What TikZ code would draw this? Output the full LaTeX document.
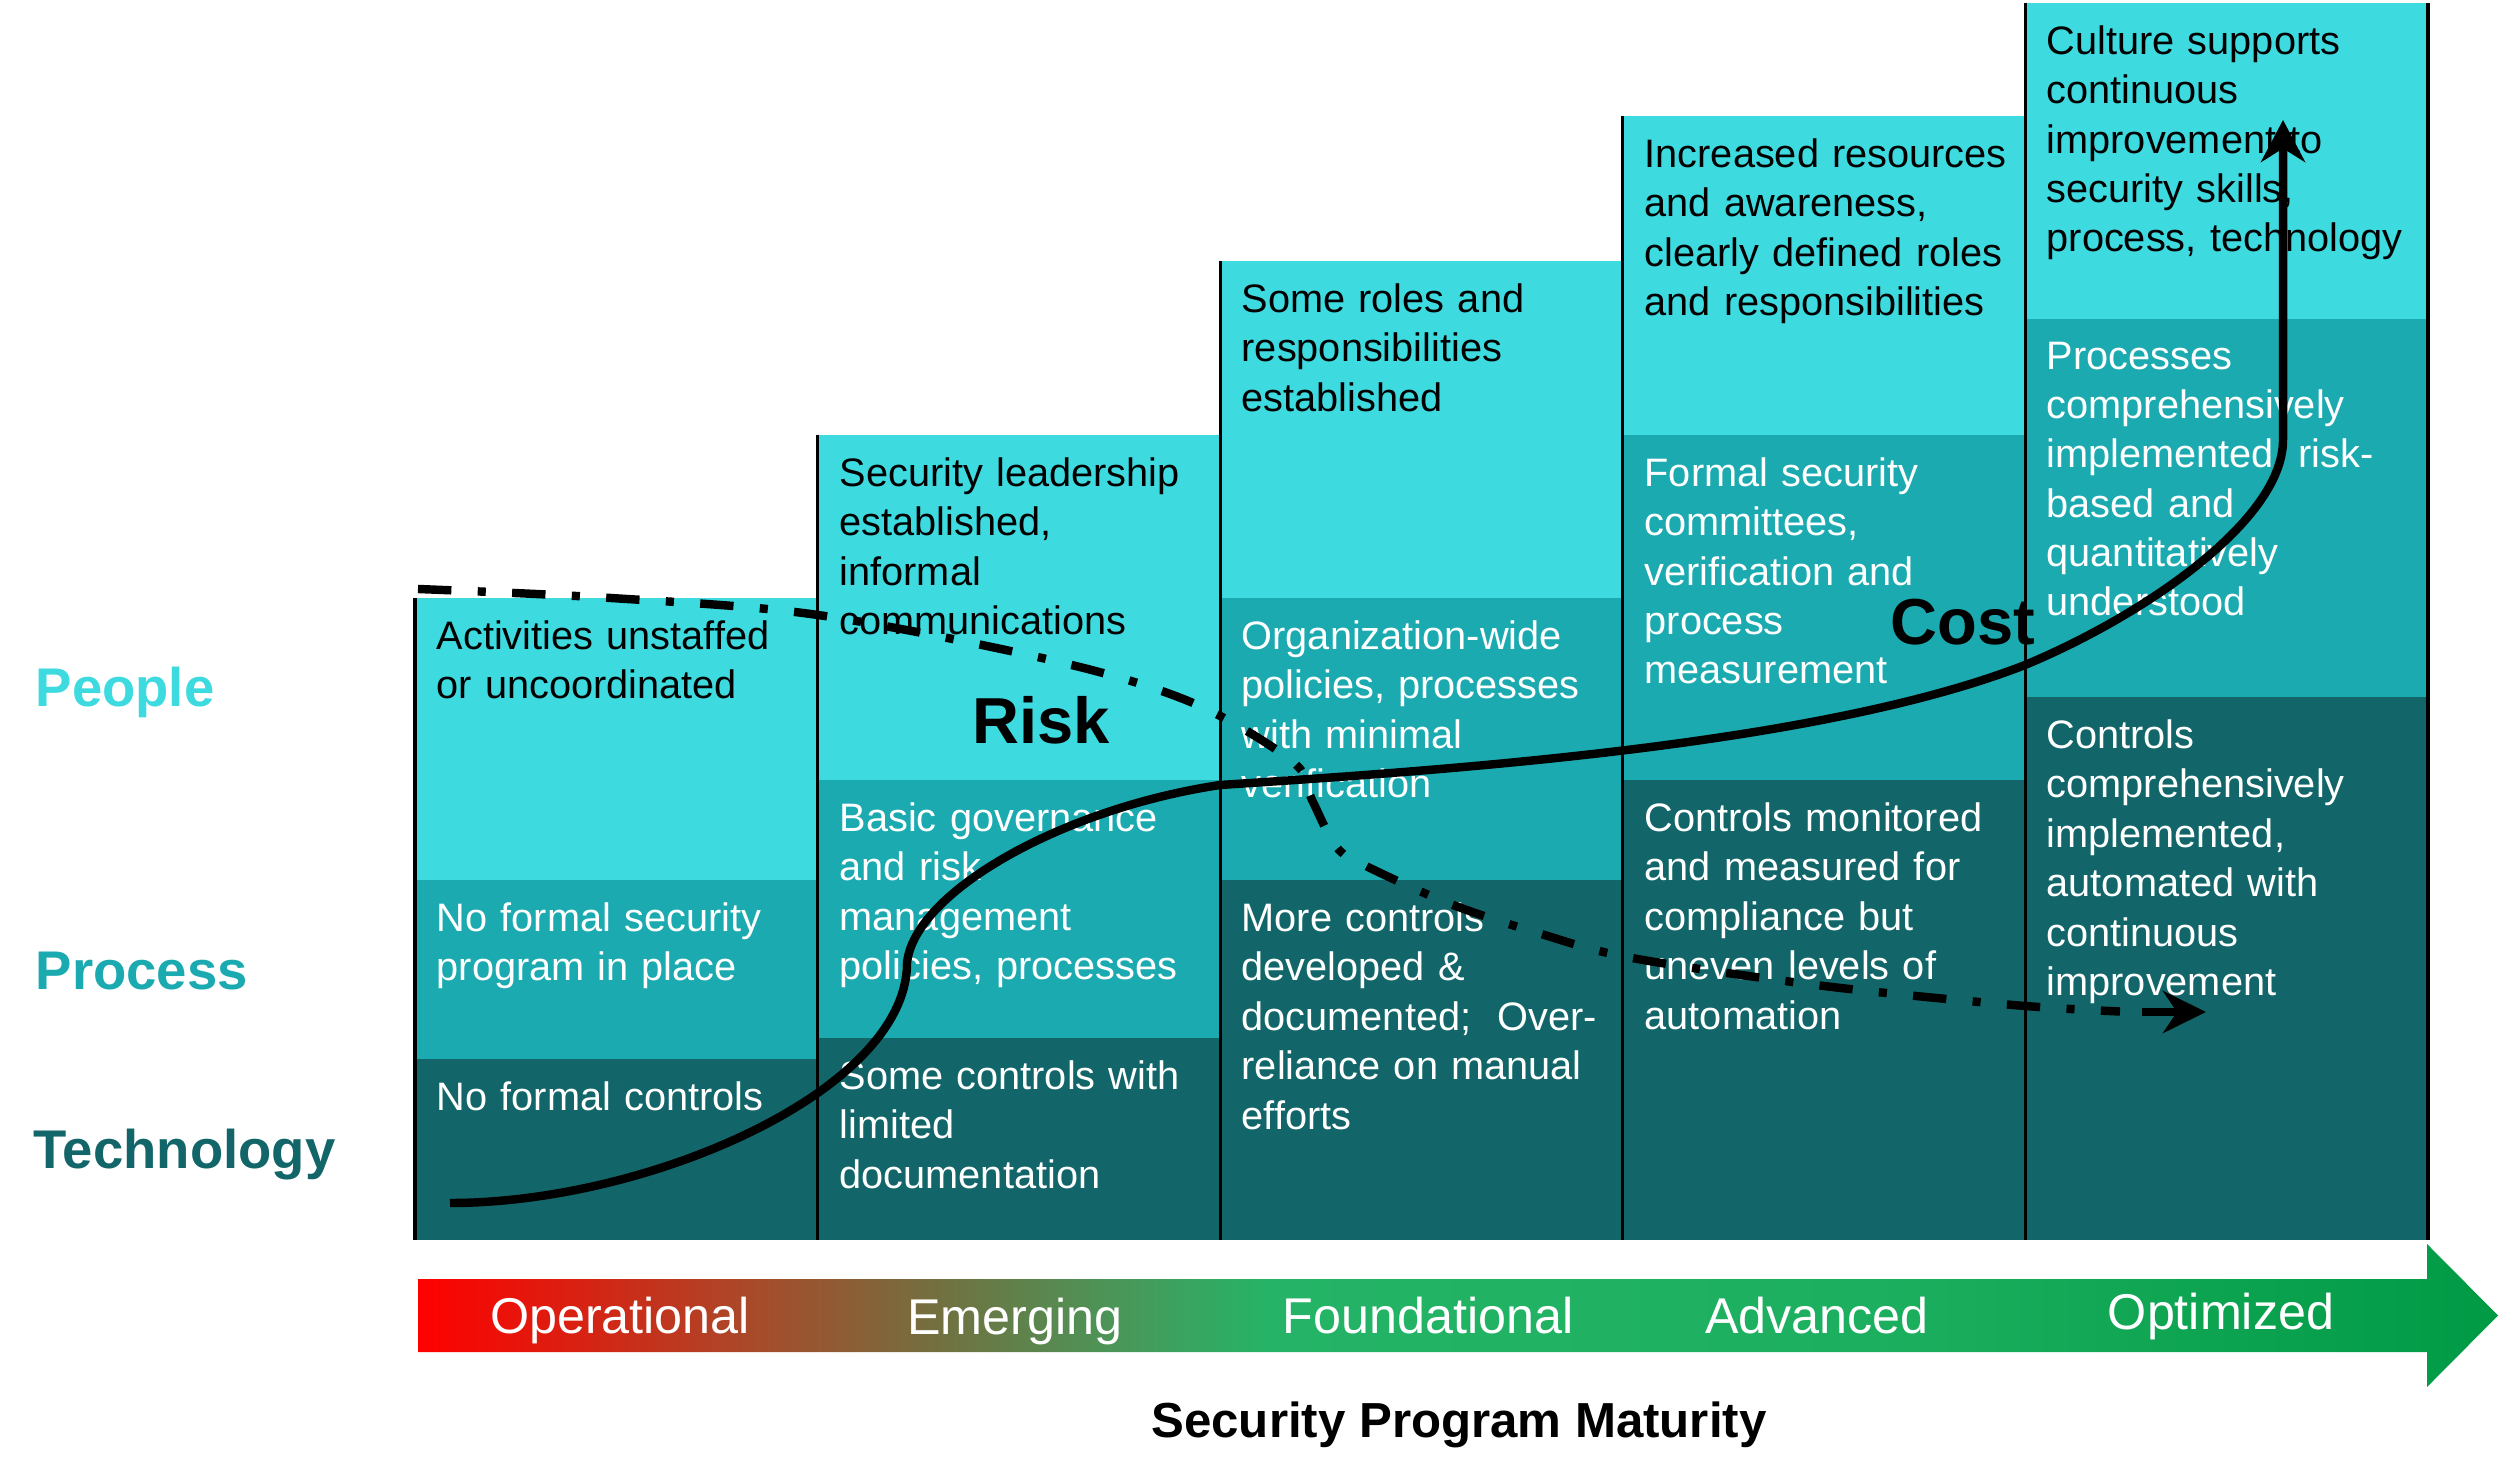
\documentclass[tikz,border=0pt]{standalone}
\usepackage{fontspec}
\setmainfont{Liberation Sans}
\usetikzlibrary{arrows.meta}

\definecolor{peoplecol}{HTML}{3DDAE0}
\definecolor{processcol}{HTML}{1CAAB1}
\definecolor{techcol}{HTML}{126669}
\definecolor{gradred}{HTML}{FF0000}
\definecolor{gradredb}{HTML}{DC1E10}
\definecolor{gradbrown}{HTML}{A84A2A}
\definecolor{gradolive}{HTML}{727040}
\definecolor{gradsage}{HTML}{48985A}
\definecolor{gradgreen}{HTML}{25B467}
\definecolor{gradmid}{HTML}{1CAF5F}
\definecolor{graddark}{HTML}{009A45}

\pgfdeclarehorizontalshading{maturity}{100bp}{color(0bp)=(gradred); color(25bp)=(gradred); color(28.5bp)=(gradredb); color(33bp)=(gradbrown); color(37.5bp)=(gradolive); color(42bp)=(gradsage); color(45.5bp)=(gradgreen); color(60bp)=(gradmid); color(75bp)=(graddark); color(100bp)=(graddark)}

\begin{document}
\begin{tikzpicture}[
    cell text/.style={anchor=north west,inner sep=0pt,text width=3.85cm,align=left,font=\fontsize{11.3}{14.05}\selectfont},
    people text/.style={cell text,text=black},
    process text/.style={cell text,text=white},
    tech text/.style={cell text,text=white},
    tier label/.style={anchor=base west,inner sep=0pt,font=\fontsize{15.5}{18}\selectfont\bfseries},
    curve label/.style={inner sep=0pt,font=\fontsize{18.5}{22}\selectfont\bfseries},
    stage label/.style={anchor=base,inner sep=0pt,text=white,font=\fontsize{14.3}{17}\selectfont},
    col line/.style={draw=black,line width=0.9pt},
    cost line/.style={line width=2.4pt,-{Stealth[length=4.2mm,width=4.4mm]}},
    risk line/.style={line width=2.4pt,dash pattern=on 9.5pt off 7.5pt on 2.3pt off 7.5pt},
    risk tip/.style={line width=2.4pt,-{Stealth[length=4.3mm,width=4.2mm]}}
]

\useasboundingbox (0,0) rectangle (25,14.8);
\fill[white] (0,0) rectangle (25,14.8);

% column fills, one step per stage
\fill[peoplecol] (4.15,6.00) rectangle (8.176,8.82);
\fill[processcol] (4.15,4.21) rectangle (8.176,6.00);
\fill[techcol] (4.15,2.40) rectangle (8.176,4.21);

\fill[peoplecol] (8.176,7.00) rectangle (12.202,10.45);
\fill[processcol] (8.176,4.42) rectangle (12.202,7.00);
\fill[techcol] (8.176,2.40) rectangle (12.202,4.42);

\fill[peoplecol] (12.202,8.82) rectangle (16.228,12.19);
\fill[processcol] (12.202,6.00) rectangle (16.228,8.82);
\fill[techcol] (12.202,2.40) rectangle (16.228,6.00);

\fill[peoplecol] (16.228,10.45) rectangle (20.254,13.64);
\fill[processcol] (16.228,7.00) rectangle (20.254,10.45);
\fill[techcol] (16.228,2.40) rectangle (20.254,7.00);

\fill[peoplecol] (20.254,11.61) rectangle (24.28,14.77);
\fill[processcol] (20.254,7.83) rectangle (24.28,11.61);
\fill[techcol] (20.254,2.40) rectangle (24.28,7.83);

% separators
\draw[col line] (4.15,2.40) -- (4.15,8.82);
\draw[col line] (8.176,2.40) -- (8.176,10.45);
\draw[col line] (12.202,2.40) -- (12.202,12.19);
\draw[col line] (16.228,2.40) -- (16.228,13.64);
\draw[col line] (20.254,2.40) -- (20.254,14.77);
\draw[col line] (24.28,2.40) -- (24.28,14.77);

% cell texts
\node[people text] (ppl1) at (4.36,8.60) {Activities unstaffed\\or uncoordinated};
\node[process text] (prc1) at (4.36,5.78) {No formal security\\program in place};
\node[tech text] (tec1) at (4.36,3.99) {No formal controls};

\node[people text] (ppl2) at (8.39,10.23) {Security leadership\\established,\\informal\\communications};
\node[process text] (prc2) at (8.39,6.78) {Basic governance\\and risk\\management\\policies, processes};
\node[tech text] (tec2) at (8.39,4.20) {Some controls with\\limited\\documentation};

\node[people text] (ppl3) at (12.41,11.97) {Some roles and\\responsibilities\\established};
\node[process text] (prc3) at (12.41,8.60) {Organization-wide\\policies, processes\\with minimal\\verification};
\node[tech text] (tec3) at (12.41,5.78) {More controls\\developed \&\\documented;~ Over-\\reliance on manual\\efforts};

\node[people text] (ppl4) at (16.44,13.42) {Increased resources\\and awareness,\\clearly defined roles\\and responsibilities};
\node[process text] (prc4) at (16.44,10.23) {Formal security\\committees,\\verification and\\process\\measurement};
\node[tech text] (tec4) at (16.44,6.78) {Controls monitored\\and measured for\\compliance but\\uneven levels of\\automation};

\node[people text] (ppl5) at (20.46,14.55) {Culture supports\\continuous\\improvement to\\security skills,\\process, technology};
\node[process text] (prc5) at (20.46,11.39) {Processes\\comprehensively\\implemented, risk-\\based and\\quantitatively\\understood};
\node[tech text] (tec5) at (20.46,7.61) {Controls\\comprehensively\\implemented,\\automated with\\continuous\\improvement};

% row labels
\node[tier label,text=peoplecol] (people) at (0.35,7.73) {People};
\node[tier label,text=processcol] (process) at (0.35,4.91) {Process};
\node[tier label,text=techcol] (technology) at (0.33,3.12) {Technology};

% maturity arrow
\shade[shading=maturity] (4.18,2.01) -- (24.27,2.01) -- (24.27,2.36) -- (24.98,1.645)
    -- (24.27,0.93) -- (24.27,1.28) -- (4.18,1.28) -- cycle;
\node[stage label] (operational) at (6.20,1.47) {Operational};
\node[stage label] (emerging) at (10.15,1.455) {Emerging};
\node[stage label] (foundational) at (14.28,1.47) {Foundational};
\node[stage label] (advanced) at (18.17,1.47) {Advanced};
\node[stage label] (optimized) at (22.21,1.51) {Optimized};
\node[anchor=base,inner sep=0pt,font=\fontsize{14}{17}\selectfont\bfseries] (maturity) at (14.59,0.43) {Security Program Maturity};

% risk and cost trends
\coordinate (risk start) at (4.18,8.91);
\coordinate (risk stop) at (21.20,4.685);
\coordinate (risk head) at (21.42,4.68);
\coordinate (risk end) at (22.06,4.68);
\coordinate (cost start) at (4.50,2.77);
\coordinate (cost bend) at (9.07,5.17);
\coordinate (cost knee) at (12.20,6.95);
\coordinate (cost rise) at (20.25,8.15);
\coordinate (cost top) at (22.83,10.40);
\coordinate (cost end) at (22.83,13.60);

\draw[risk line] plot[smooth,tension=0.55] coordinates {(risk start) (6.11,8.82) (8.18,8.65) (10.55,8.19)
    (11.93,7.77) (12.93,7.18) (13.12,6.80) (13.35,6.35) (13.60,6.17) (14.48,5.77) (15.38,5.47)
    (16.32,5.22) (18.24,4.94) (20.13,4.75) (risk stop)};
\draw[risk tip] (risk head) -- (risk end);

\draw[cost line] (cost start) .. controls (6.5,2.77) and (9.07,3.9) .. (cost bend)
    .. controls (9.14,5.87) and (10.60,6.71) .. (cost knee)
    .. controls (14.5,7.10) and (18.2,7.35) .. (cost rise)
    .. controls (21.45,8.65) and (22.83,9.60) .. (cost top) -- (cost end);

\node[curve label] (risk) at (10.41,7.60) {Risk};
\node[curve label] (cost) at (19.63,8.58) {Cost};

\end{tikzpicture}
\end{document}
